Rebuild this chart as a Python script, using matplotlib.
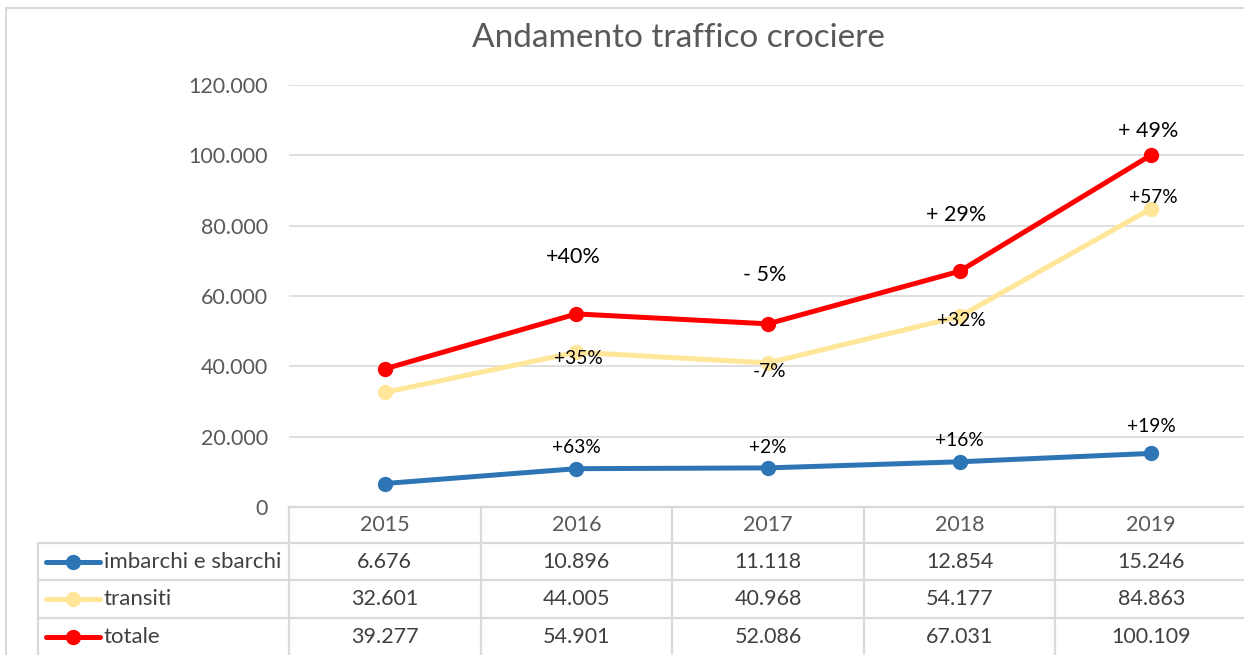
import matplotlib.pyplot as plt
from matplotlib.lines import Line2D
from matplotlib.patches import Rectangle
from matplotlib.transforms import blended_transform_factory

plt.rcParams['font.family'] = ['Lato', 'DejaVu Sans']

# data
years = ['2015', '2016', '2017', '2018', '2019']
imbarchi = [6676, 10896, 11118, 12854, 15246]
transiti = [32601, 44005, 40968, 54177, 84863]
totale = [39277, 54901, 52086, 67031, 100109]
series_names = ['imbarchi e sbarchi', 'transiti', 'totale']
pct_imbarchi = ['', '+63%', '+2%', '+16%', '+19%']
pct_transiti = ['', '+35%', '-7%', '+32%', '+57%']
pct_totale = ['', '+40%', '- 5%', '+ 29%', '+ 49%']

colors = ['#2E75B6', '#FFE699', '#FF0000']
W, H = 1244, 655

fig = plt.figure(figsize=(W / 100, H / 100), dpi=100)
fig.patch.set_facecolor('white')

# outer chart border
fig.add_artist(Rectangle((6 / W, -0.05), 1.1, (H - 8) / H + 0.05,
                         transform=fig.transFigure, fill=False,
                         edgecolor='#D9D9D9', lw=1.5))

# plot area in pixels
left, right, top, bottom = 289, 1247, 85, 507
ax = fig.add_axes([left / W, (H - bottom) / H, (right - left) / W, (bottom - top) / H])
ax.set_xlim(-0.5, 4.5)
ax.set_ylim(0, 120000)
x = range(len(years))

all_series = [imbarchi, transiti, totale]
for vals, c in zip(all_series, colors):
    ax.plot(x, vals, color=c, lw=3.6, marker='o', markersize=10, solid_capstyle='round', zorder=3)

ax.set_yticks(range(0, 120001, 20000))
ax.set_yticklabels([f'{v:,}'.replace(',', '.') if v else '0' for v in range(0, 120001, 20000)])
ax.tick_params(axis='y', length=0, pad=15, labelsize=15.5, labelcolor='#595959')
ax.set_xticks([])
ax.grid(axis='y', color='#D9D9D9', lw=1.2)
for s in ax.spines.values():
    s.set_visible(False)
ax.set_axisbelow(True)

# percentage labels (offsets in pixels, screen y up)
off_tot = [0, 57, 49, 56, 24]
off_tra = [0, -6, -9, -4, 11]
off_imb = [0, 21, 20, 21, 27]
for i in x:
    if pct_totale[i]:
        ax.annotate(pct_totale[i], (i, totale[i]), xytext=(-3, off_tot[i]), textcoords='offset pixels',
                    ha='center', va='center', fontsize=15.5, color='black')
    if pct_transiti[i]:
        ax.annotate(pct_transiti[i], (i, transiti[i]), xytext=(2, off_tra[i]), textcoords='offset pixels',
                    ha='center', va='center', fontsize=13.8, color='black')
    if pct_imbarchi[i]:
        ax.annotate(pct_imbarchi[i], (i, imbarchi[i]), xytext=(0, off_imb[i]), textcoords='offset pixels',
                    ha='center', va='center', fontsize=13.8, color='black')

fig.text(678 / W, (H - 38) / H, 'Andamento traffico crociere', ha='center', va='center',
         fontsize=24, color='#595959')

# data table below the plot
tr = blended_transform_factory(ax.transData, fig.transFigure)
figt = fig.transFigure
grid_c = '#D9D9D9'


def fy(py):
    return (H - py) / H


row_lines = [507, 543, 580, 618]
for k, py in enumerate(row_lines):
    x0 = left if k == 0 else 38
    fig.add_artist(Line2D([x0 / W, 1.01], [fy(py), fy(py)], transform=figt, color=grid_c, lw=1.6))
fig.add_artist(Line2D([38 / W, 38 / W], [fy(543), -0.01], transform=figt, color=grid_c, lw=1.6))
for i in range(len(years)):
    fig.add_artist(Line2D([i - 0.5, i - 0.5], [fy(507), -0.01], transform=tr, color=grid_c, lw=1.6))

row_centers = [562, 599, 637]
for i, yr in enumerate(years):
    fig.text(i, fy(525), yr, transform=tr, ha='center', va='center', fontsize=15.5, color='#595959')
    for vals, py in zip(all_series, row_centers):
        fig.text(i, fy(py), f'{vals[i]:,}'.replace(',', '.'), transform=tr,
                 ha='center', va='center', fontsize=15.5, color='#404040')

for name, c, py in zip(series_names, colors, row_centers):
    fig.add_artist(Line2D([46 / W, 100 / W], [fy(py), fy(py)], transform=figt, color=c, lw=3.6,
                          solid_capstyle='round'))
    fig.add_artist(Line2D([73 / W], [fy(py)], transform=figt, color=c, marker='o', markersize=10))
    fig.text(104 / W, fy(py), name, ha='left', va='center', fontsize=16, color='#404040')

fig.savefig('out.png', dpi=100)
